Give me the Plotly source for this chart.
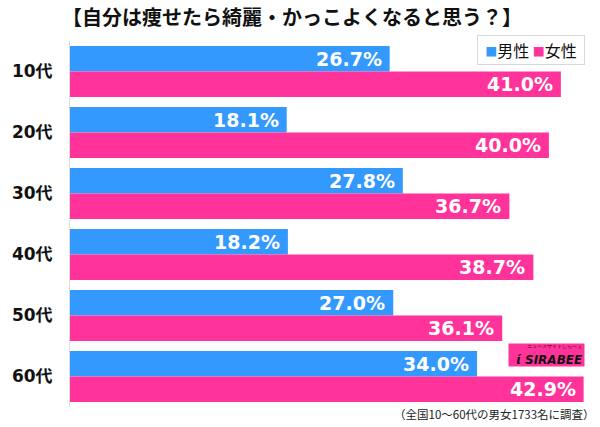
import plotly.graph_objects as go

categories = ["10代", "20代", "30代", "40代", "50代", "60代"]
male = [26.7, 18.1, 27.8, 18.2, 27.0, 34.0]
female = [41.0, 40.0, 36.7, 38.7, 36.1, 42.9]
series_names = ["男性", "女性"]
title_text = "【自分は痩せたら綺麗・かっこよくなると思う？】"
note_text = "（全国10〜60代の男女1733名に調査）"

BLUE = "#3399ff"
PINK = "#ff3399"
FONT = "Noto Sans CJK JP"
NUMFONT = "DejaVu Sans, Noto Sans CJK JP"

W, H = 600, 427
L, R, T, B = 70, 8, 41, 20
PW, PH = W - L - R, H - T - B


def px(x):
    return (x - L) / PW


def py(y):
    return (H - B - y) / PH


fig = go.Figure()
fig.add_trace(go.Bar(y=categories, x=male, name=series_names[0], orientation="h",
                     marker=dict(color=BLUE, line=dict(width=0)), hoverinfo="skip"))
fig.add_trace(go.Bar(y=categories, x=female, name=series_names[1], orientation="h",
                     marker=dict(color=PINK, line=dict(width=0)), hoverinfo="skip"))

annotations = []
# value labels, positioned from data through axis scales
for i, c in enumerate(categories):
    for vals, off in ((male, -0.209), (female, 0.209)):
        annotations.append(dict(
            x=vals[i], y=i + off, xref="x", yref="y", text="<b>%.1f%%</b>" % vals[i],
            showarrow=False, xanchor="right", yanchor="middle", xshift=-6,
            font=dict(family=NUMFONT, size=19, color="white")))

annotations.append(dict(x=px(291.5), y=py(17), xref="paper", yref="paper",
                        text="<b>" + title_text + "</b>", showarrow=False,
                        xanchor="center", yanchor="middle",
                        font=dict(family=FONT, size=20, color="#111")))
annotations.append(dict(x=px(597), y=py(414), xref="paper", yref="paper", xanchor="right",
                        yanchor="middle", text=note_text, showarrow=False,
                        font=dict(family=FONT, size=11.5, color="#222")))
# legend (built as a boxed annotation)
legend_text = ("<span style='color:%s;font-size:12px'>■</span>%s "
               "<span style='color:%s;font-size:12px'>■</span>%s"
               % (BLUE, series_names[0], PINK, series_names[1]))
annotations.append(dict(x=px(585), y=py(35), xref="paper", yref="paper",
                        xanchor="right", yanchor="top", showarrow=False,
                        text=legend_text, bgcolor="white", bordercolor="#d8d8d8",
                        borderwidth=1, borderpad=3, width=100, height=22,
                        font=dict(family=FONT, size=16, color="#111")))
# SIRABEE logo approximation
annotations.append(dict(x=px(585), y=py(367), xref="paper", yref="paper", xanchor="right",
                        yanchor="bottom", showarrow=False,
                        text=("<span style='font-size:5px'>ニュースサイトしらべぇ</span><br>"
                              "<b><i>ί SIRABEE</i></b>"),
                        bgcolor=PINK, width=73, height=20, borderpad=1, align="right",
                        font=dict(family="DejaVu Sans", size=12, color="#111")))

fig.update_layout(
    width=W, height=H,
    margin=dict(l=L, r=R, t=T, b=B, autoexpand=False),
    paper_bgcolor="white", plot_bgcolor="white",
    barmode="group", bargap=0.164, bargroupgap=0,
    showlegend=False,
    xaxis=dict(range=[0, 43.6], showgrid=False, zeroline=False, showticklabels=False,
               showline=False, fixedrange=True),
    yaxis=dict(autorange="reversed", showgrid=False, zeroline=False, showline=True,
               linecolor="#dddddd", linewidth=1, ticks="", ticklabelstandoff=13,
               tickvals=categories, ticktext=["<b>%s</b>" % c for c in categories],
               tickfont=dict(family=NUMFONT, size=17, color="#111"), fixedrange=True),
    annotations=annotations,
    font=dict(family=FONT),
)

fig.write_html("out.html", config={"displayModeBar": False},
               post_script="document.body.style.margin='0';document.body.style.padding='0';")
